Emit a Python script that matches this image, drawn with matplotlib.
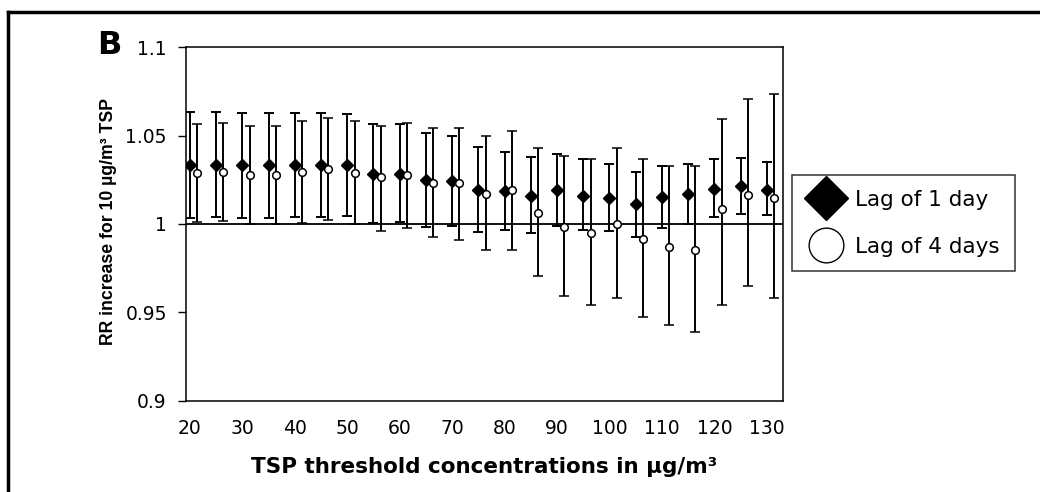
import matplotlib
matplotlib.use('Agg')
import matplotlib.pyplot as plt
from matplotlib.lines import Line2D

plt.rcParams['font.family'] = ['DejaVu Sans']

# TSP thresholds (µg/m³)
thresholds = [20, 25, 30, 35, 40, 45, 50, 55, 60, 65, 70, 75, 80, 85, 90, 95,
              100, 105, 110, 115, 120, 125, 130]

# lag of 1 day: RR and 95% CI
lag1_rr = [1.0332, 1.0332, 1.0332, 1.0332, 1.0332, 1.0332, 1.0332, 1.0281,
           1.0281, 1.0249, 1.0243, 1.0194, 1.0187, 1.0160, 1.0194, 1.0160,
           1.0149, 1.0115, 1.0151, 1.0168, 1.0200, 1.0213, 1.0194]
lag1_lo = [1.0036, 1.0041, 1.0036, 1.0036, 1.0041, 1.0041, 1.0047, 1.0004,
           1.0010, 0.9985, 0.9990, 0.9957, 0.9964, 0.9951, 0.9990, 0.9964,
           0.9959, 0.9928, 0.9975, 1.0000, 1.0042, 1.0057, 1.0049]
lag1_hi = [1.0634, 1.0634, 1.0627, 1.0627, 1.0627, 1.0627, 1.0621, 1.0568,
           1.0565, 1.0517, 1.0497, 1.0436, 1.0410, 1.0379, 1.0398, 1.0366,
           1.0340, 1.0296, 1.0327, 1.0340, 1.0366, 1.0372, 1.0353]

# lag of 4 days
lag4_rr = [1.0290, 1.0296, 1.0276, 1.0276, 1.0296, 1.0310, 1.0290, 1.0264,
           1.0277, 1.0232, 1.0232, 1.0170, 1.0191, 1.0064, 0.9985, 0.9949,
           1.0000, 0.9915, 0.9868, 0.9855, 1.0085, 1.0164, 1.0145]
lag4_lo = [1.0010, 1.0017, 1.0000, 1.0000, 1.0007, 1.0023, 1.0000, 0.9962,
           0.9977, 0.9925, 0.9911, 0.9851, 0.9851, 0.9706, 0.9590, 0.9541,
           0.9583, 0.9475, 0.9428, 0.9388, 0.9541, 0.9647, 0.9583]
lag4_hi = [1.0568, 1.0574, 1.0557, 1.0557, 1.0580, 1.0600, 1.0583, 1.0557,
           1.0574, 1.0542, 1.0542, 1.0497, 1.0528, 1.0430, 1.0385, 1.0366,
           1.0430, 1.0366, 1.0330, 1.0330, 1.0595, 1.0708, 1.0736]

x_ticks = [20, 30, 40, 50, 60, 70, 80, 90, 100, 110, 120, 130]
y_ticks = [0.9, 0.95, 1.0, 1.05, 1.1]
y_ticklabels = ['0.9', '0.95', '1', '1.05', '1.1']

LAG4_SHIFT = 1.4  # lag-4 series drawn slightly to the right

fig = plt.figure(figsize=(10.4, 4.92), dpi=100)
ax = fig.add_axes([0.1786, 0.1856, 0.5743, 0.7183])

x4 = [t + LAG4_SHIFT for t in thresholds]
err1 = [[r - lo for r, lo in zip(lag1_rr, lag1_lo)],
        [hi - r for r, hi in zip(lag1_rr, lag1_hi)]]
err4 = [[r - lo for r, lo in zip(lag4_rr, lag4_lo)],
        [hi - r for r, hi in zip(lag4_rr, lag4_hi)]]

ax.axhline(1.0, color='black', lw=1.3, zorder=1)
ax.errorbar(thresholds, lag1_rr, yerr=err1, fmt='D', color='black', ms=6,
            mfc='black', mec='black', ecolor='black', elinewidth=1.4,
            capsize=3.8, capthick=1.4, zorder=3)
ax.errorbar(x4, lag4_rr, yerr=err4, fmt='o', color='black', ms=5.5,
            mfc='white', mec='black', mew=1.1, ecolor='black', elinewidth=1.4,
            capsize=3.8, capthick=1.4, zorder=3)

ax.set_xlim(19.2, 133.1)
ax.set_ylim(0.9, 1.1)
ax.set_xticks(x_ticks)
ax.set_xticklabels([str(v) for v in x_ticks], fontsize=13.5)
ax.set_yticks(y_ticks)
ax.set_yticklabels(y_ticklabels, fontsize=13.5)
ax.tick_params(axis='x', length=0, pad=13)
ax.tick_params(axis='y', direction='out', length=5.6, width=1, pad=8)
for s in ax.spines.values():
    s.set_linewidth(1.1)
    s.set_color('black')

ax.set_xlabel('TSP threshold concentrations in µg/m³', fontsize=15.5,
              fontweight='bold', labelpad=14)
fig.text(0.104, 0.549, 'RR increase for 10 µg/m³ TSP', rotation=90,
         ha='center', va='center', fontsize=12.7, fontweight='bold',
         family=['Liberation Sans Narrow', 'Liberation Sans'])
fig.text(0.093, 0.908, 'B', fontsize=23, fontweight='bold', ha='left',
         va='center')

handles = [Line2D([], [], marker='D', ls='none', color='black', ms=22),
           Line2D([], [], marker='o', ls='none', mfc='white', mec='black',
                  mew=1, ms=25)]
leg = fig.legend(handles, ['Lag of 1 day', 'Lag of 4 days'],
                 loc='upper left', bbox_to_anchor=(0.7615, 0.6443),
                 fontsize=15.5, frameon=True, fancybox=False,
                 edgecolor='black', handlelength=1.77, handletextpad=0.5,
                 labelspacing=1.25, borderpad=0.68, borderaxespad=0)
leg.get_frame().set_linewidth(1.1)

# outer frame (top and left edges)
fig.add_artist(Line2D([0.008, 1.0], [0.976, 0.976], color='black', lw=2.5,
                      transform=fig.transFigure))
fig.add_artist(Line2D([0.008, 0.008], [0.0, 0.976], color='black', lw=2.5,
                      transform=fig.transFigure))

fig.savefig('out.png', dpi=100)
